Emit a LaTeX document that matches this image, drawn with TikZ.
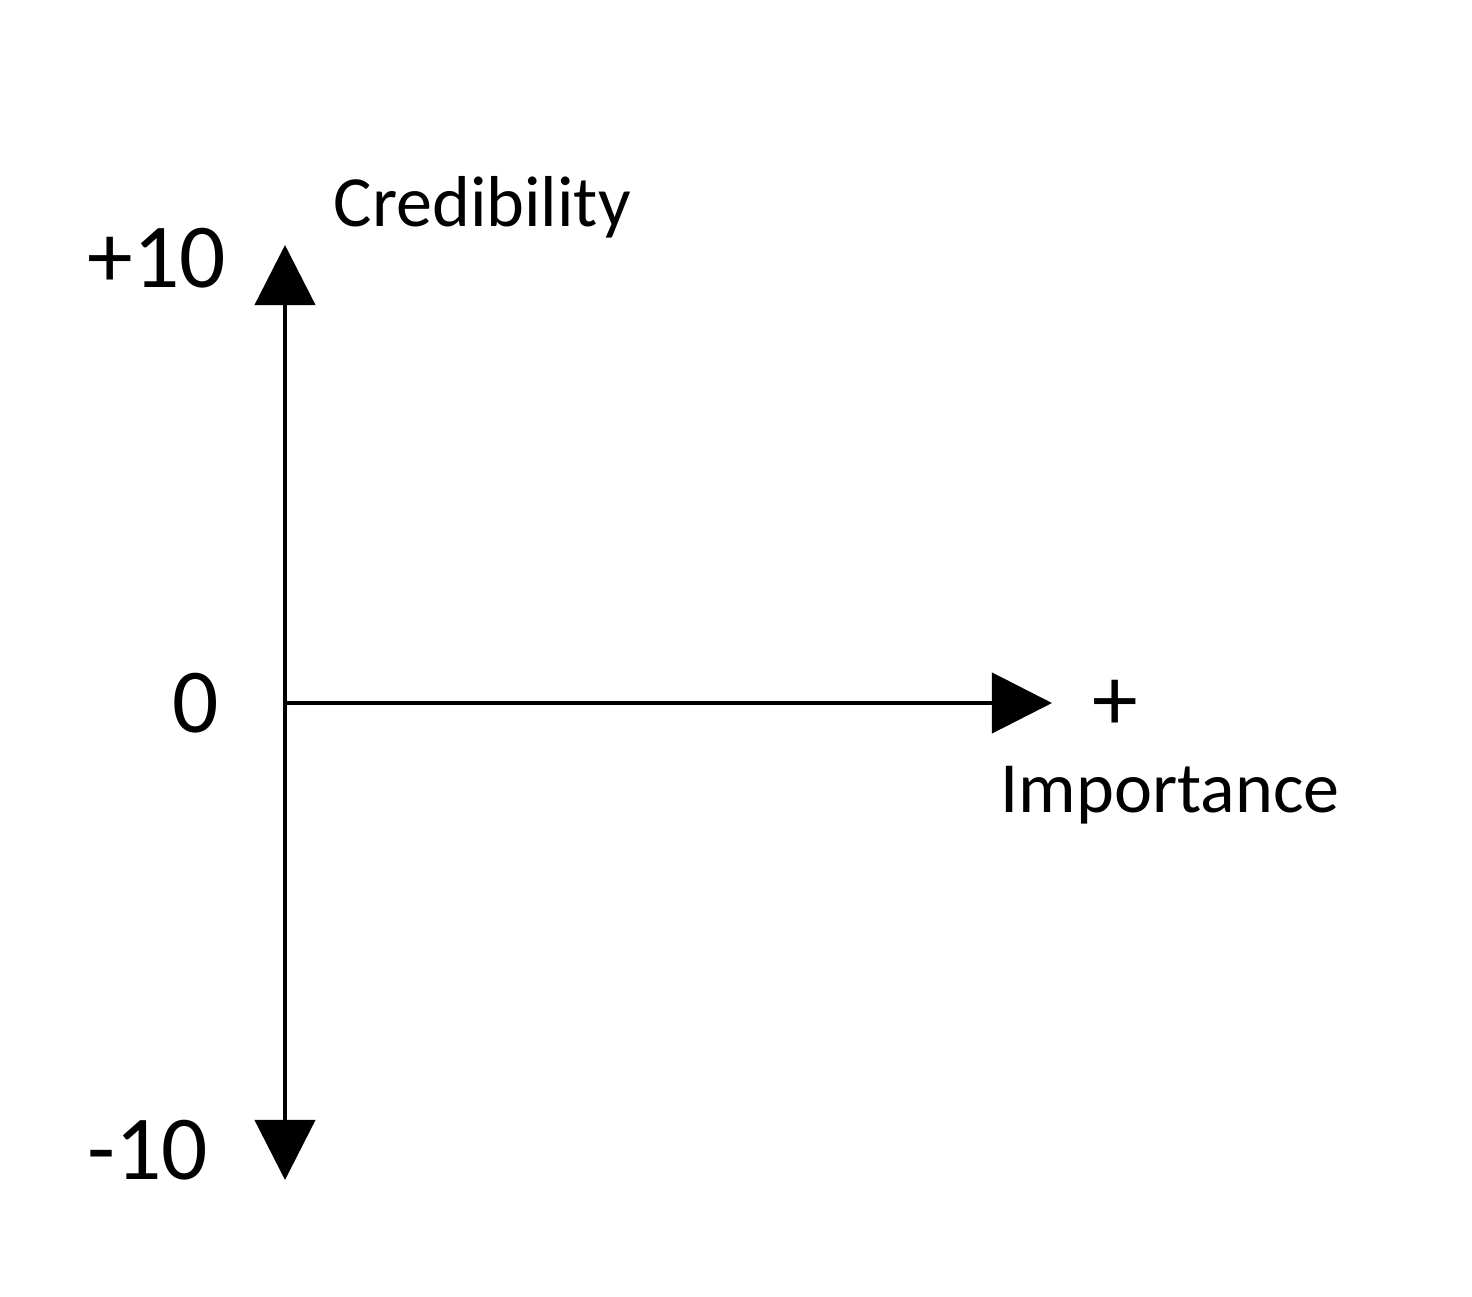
\documentclass[tikz,border=0pt]{standalone}
\usepackage{fontspec}
\setmainfont{Carlito}
\usetikzlibrary{arrows.meta,positioning}

\tikzset{
  axis/.style={line width=1.2pt,{Triangle[length=6mm,width=6mm]}-{Triangle[length=6mm,width=6mm]}},
  haxis/.style={line width=1.2pt,-{Triangle[length=6mm,width=6mm]}},
  ticklbl/.style={font=\fontsize{26}{30}\selectfont,inner sep=0pt},
  axislbl/.style={font=\fontsize{20.5}{24}\selectfont,inner sep=0pt}
}

\begin{document}
\begin{tikzpicture}[x=0.01cm,y=-0.01cm]
  \useasboundingbox (0,0) rectangle (1472,1297);
  % axes
  \coordinate (origin) at (285,703);
  \coordinate (ytop) at (285,245);
  \coordinate (ybot) at (285,1180);
  \coordinate (xend) at (1052,703);
  \draw[axis] (ybot) -- (ytop);
  \draw[haxis] (origin) -- (xend);
  % labels
  \node[ticklbl] (plusten) at (157,258) {+10};
  \node[ticklbl] (zero) at (196,703) {0};
  \node[ticklbl] (minusten) at (148,1150) {-10};
  \node[axislbl,anchor=west] (cred) at (333,207) {Credibility};
  \node[ticklbl] (plus) at (1115,705) {+};
  \node[axislbl,anchor=west] (imp) at (1000,795) {Importance};
\end{tikzpicture}
\end{document}
